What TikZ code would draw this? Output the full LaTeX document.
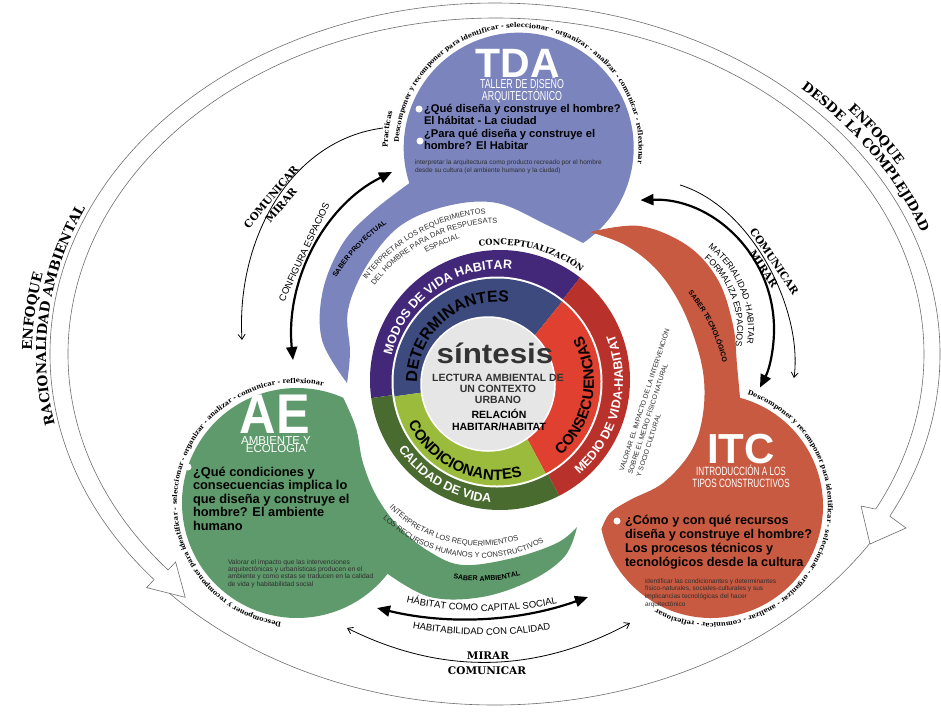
\documentclass[tikz,border=0pt]{standalone}
\usepackage{fontspec}
\usepackage{graphicx}
\setmainfont{Liberation Sans}
\newfontfamily\slab{DejaVu Serif}
\newfontfamily\narrowsf{Liberation Sans}[FakeStretch=0.68]
\usetikzlibrary{decorations.text,arrows.meta}

\definecolor{tdacol}{HTML}{7B84BD}
\definecolor{aecol}{HTML}{5E9A6B}
\definecolor{itccol}{HTML}{C75A41}
\definecolor{ringpurple}{HTML}{43287A}
\definecolor{ringred}{HTML}{B8312B}
\definecolor{ringgreen}{HTML}{4A6B2F}
\definecolor{inblue}{HTML}{3D4A7E}
\definecolor{inred}{HTML}{E0402F}
\definecolor{ingreen}{HTML}{9BBB3C}
\definecolor{core}{HTML}{E6E6E6}
\definecolor{inkgray}{HTML}{2E2E2E}
\definecolor{titlegray}{HTML}{333333}
\definecolor{linegray}{HTML}{6E6E6E}

\newcommand\setfs[1]{\fontsize{#1}{#1}\selectfont}
% text along a circular arc: centre, radius, start angle, end angle, format, text
\newcommand\arclabel[6]{%
  \path[shift={#1}, decorate, decoration={text along path, text align=center, text={|#5|#6}}]
    (#3:#2) arc[start angle=#3, end angle=#4, radius=#2];}
% text along an elliptic arc: centre, x radius, y radius, start, end, format, text
\newcommand\ellabel[7]{%
  \path[shift={#1}, decorate, decoration={text along path, text align=center, text={|#6|#7}}]
    (#4:#2 and #3) arc[start angle=#4, end angle=#5, x radius=#2, y radius=#3];}

\tikzset{
  outline/.style={draw=linegray, line width=0.6pt},
  heavyarrow/.style={line width=2.2pt, {Triangle[length=13pt,width=11pt]}-{Triangle[length=13pt,width=11pt]}},
  lightarrow/.style={line width=0.8pt, -{Straight Barb[length=5pt,width=7pt]}},
  lightboth/.style={line width=0.8pt, {Straight Barb[length=5pt,width=7pt]}-{Straight Barb[length=5pt,width=7pt]}},
  plain/.style={inner sep=0pt, outer sep=0pt},
  question/.style={plain, align=left, text=black},
  note/.style={plain, align=left, text=inkgray},
  bigtitle/.style={plain, text=white, font=\bfseries},
  slablabel/.style={plain, align=center, text=black},
  bullet/.style={fill=white},
}

\begin{document}
\begin{tikzpicture}[x=1pt, y=-1pt]
\useasboundingbox (0,0) rectangle (941,713);
\fill[white] (0,0) rectangle (941,713);

% ---------- outer double-line arrows ----------
\draw[outline] (495,354) ellipse [x radius=445, y radius=351];
\draw[outline] (496,354) ++(140:428 and 336) arc[start angle=140, end angle=387.5, x radius=428, y radius=336];
\fill[white] (168.1,570) -- (175.6,562) -- (185.2,597.3) -- (146.6,587.6) -- (154.1,579.6) -- cycle;
\draw[outline] (168.1,570) -- (175.6,562) -- (185.2,597.3) -- (146.6,587.6) -- (154.1,579.6);
\fill[white] (875.6,509.1) -- (861,506) -- (870,544) -- (906,528) -- (889.7,516.1) -- cycle;
\draw[outline] (875.6,509.1) -- (861,506) -- (870,544) -- (906,528) -- (889.7,516.1);

\ellabel{(495,354)}{463}{369}{150}{222}{\slab\bfseries\setfs{13.5}}{ENFOQUE}
\ellabel{(495,354)}{449}{355}{150}{222}{\slab\bfseries\setfs{13.5}}{RACIONALIDAD AMBIENTAL}
\ellabel{(495,354)}{467}{373}{-75}{9}{\slab\bfseries\setfs{13}}{ENFOQUE}
\ellabel{(495,354)}{453}{359}{-75}{13}{\slab\bfseries\setfs{13}}{DESDE LA COMPLEJIDAD}

% ---------- the three bubbles ----------
\fill[tdacol] (583,243) arc[start angle=56, end angle=-198, radius=115]
  -- plot[smooth, tension=0.6] coordinates {(409.3,183.2) (372,212) (343,243) (323,290) (322,340) (347,383)}
  -- plot[smooth, tension=0.6] coordinates {(347,383) (350,352) (348,310) (367,265) (400,226) (447,206) (497,203) (547,225) (583,243)}
  -- cycle;
\fill[aecol] (387.6,573.8) arc[start angle=38, end angle=293.7, radius=115]
  -- plot[smooth, tension=0.6] coordinates {(343.2,397.7) (356,428) (363,463) (377,497) (400,528) (430,552) (463,565) (513,558) (557,543) (577,527)}
  -- plot[smooth, tension=0.6] coordinates {(577,527) (565,556) (532,580) (482,597) (430,597) (387.6,573.8)}
  -- cycle;
\fill[itccol] (740,397.8) arc[start angle=-75, end angle=168, radius=112]
  -- plot[smooth, tension=0.6] coordinates {(601.4,529.3) (610,513) (630,500) (663,483) (690,453) (702,420) (704,380) (695,340) (678,300) (655,268) (625,245) (590,232)}
  -- plot[smooth, tension=0.6] coordinates {(590,232) (640,226) (688,246) (718,280) (733,325) (737,365) (740,397.8)}
  -- cycle;

% words running round each bubble
\arclabel{(518.7,147.7)}{120}{160}{390}{\slab\bfseries\setfs{6.6}}{Descomponer y recomponer para identificar - seleccionar - organizar - analizar - comunicar - reflexionar}
\arclabel{(518.7,147.7)}{131}{160}{216}{\slab\bfseries\setfs{7}}{Practicas}
\arclabel{(297,503)}{120}{75}{305}{\slab\bfseries\setfs{6.6}}{Descomponer y recomponer para identificar - seleccionar - organizar - analizar - comunicar - reflexionar}
\arclabel{(711,506)}{117}{-92}{138}{\slab\bfseries\setfs{6.6}}{Descomponer y recomponer para identificar - seleccionar - organizar - analizar - comunicar - reflexionar}

% knowledge labels along the tails
\arclabel{(500,380)}{193}{190}{256}{\bfseries\setfs{7}}{SABER PROYECTUAL}
\arclabel{(560,400)}{167}{-70}{17}{\bfseries\setfs{7}}{SABER TECNOLÓGICO}
\arclabel{(480,420)}{161}{115}{60}{\bfseries\setfs{7}}{SABER AMBIENTAL}

% ---------- central rings ----------
\begin{scope}[shift={(500,380)}]
  \fill[ringpurple] (0,0) -- (172:130) arc[start angle=172, end angle=308, radius=130] -- cycle;
  \fill[ringred] (0,0) -- (308:130) arc[start angle=308, end angle=423, radius=130] -- cycle;
  \fill[ringgreen] (0,0) -- (63:130) arc[start angle=63, end angle=172, radius=130] -- cycle;
\end{scope}
\fill[white] (497,382) circle (105.5);
\begin{scope}[shift={(497,382)}]
  \fill[inblue] (0,0) -- (172:103.5) arc[start angle=172, end angle=309, radius=103.5] -- cycle;
  \fill[inred] (0,0) -- (309:103.5) arc[start angle=309, end angle=422, radius=103.5] -- cycle;
  \fill[ingreen] (0,0) -- (62:103.5) arc[start angle=62, end angle=172, radius=103.5] -- cycle;
\end{scope}
\filldraw[fill=core, draw=white, line width=1.5pt] (488,384) circle (67);

\arclabel{(500,380)}{111}{174.5}{294.5}{\bfseries\setfs{12.5}\color{white}}{MODOS DE VIDA HABITAR}
\arclabel{(500,380)}{123}{70}{-42}{\bfseries\setfs{12.5}\color{white}}{MEDIO DE VIDA-HABITAT}
\arclabel{(500,380)}{123}{175}{65}{\bfseries\setfs{12.5}\color{white}}{CALIDAD DE VIDA}
\arclabel{(497,382)}{80}{169}{289}{\bfseries\setfs{16}\color{black}}{DETERMINANTES}
\arclabel{(497,382)}{97}{62}{-42}{\bfseries\setfs{15}\color{black}}{CONSECUENCIAS}
\arclabel{(497,382)}{98}{170}{60}{\bfseries\setfs{15}\color{black}}{CONDICIONANTES}
\arclabel{(500,380)}{135}{254}{314}{\slab\bfseries\setfs{8.3}}{CONCEPTUALIZACIÓN}

\node[plain, anchor=base, text=titlegray, font=\bfseries\setfs{28}] (sintesis) at (495,363) {\scalebox{1.12}[1]{síntesis}};
\node[plain, anchor=base, align=center, text=titlegray, font=\bfseries\fontsize{10.5}{11}\selectfont] (lectura) at (498,403) {LECTURA AMBIENTAL DE\\UN CONTEXTO\\URBANO};
\node[plain, anchor=base, align=center, text=black, font=\bfseries\fontsize{10.5}{12}\selectfont] (relacion) at (499,430) {RELACIÓN\\HABITAR/HABITAT};

% ---------- texts in the white channel ----------
\arclabel{(500,380)}{167}{205}{277}{\setfs{7.5}\color{inkgray}}{INTERPRETAR LOS REQUERIMIENTOS}
\arclabel{(500,380)}{157}{207}{279}{\setfs{7.5}\color{inkgray}}{DEL HOMBRE PARA DAR RESPUESATS}
\arclabel{(500,380)}{147}{215}{279}{\setfs{7.5}\color{inkgray}}{ESPACIAL}
\arclabel{(480,420)}{126}{150}{58}{\setfs{7.5}\color{inkgray}}{INTERPRETAR LOS REQUERIMIENTOS}
\arclabel{(480,420)}{138}{150}{47}{\setfs{7.5}\color{inkgray}}{LOS RECURSOS HUMANOS Y CONSTRUCTIVOS}
\node[note, anchor=north west, rotate=72, font=\fontsize{6.8}{9}\selectfont] (valorar) at (618,470) {VALORAR EL IMPACTO DE LA INTERVENCIÓN\\SOBRE EL MEDIO FÍSICO NATURAL\\Y SOCIO CULTURAL};

% ---------- TDA contents ----------
\node[bigtitle, anchor=base, font=\bfseries\setfs{41}] (tda) at (518,77) {TDA};
\node[plain, anchor=base, align=center, text=white, font=\narrowsf\fontsize{13}{12}\selectfont] (tdasub) at (522,100) {TALLER DE DISEÑO\\ARQUITECTÓNICO};
\fill[bullet] (419,109) circle (3.5);
\fill[bullet] (420,141) circle (3.5);
\node[question, anchor=base west, font=\bfseries\fontsize{11.2}{12.5}\selectfont] (tdaq) at (424,149.5) {¿Qué diseña y construye el hombre?\\El hábitat - La ciudad\\¿Para qué diseña y construye el\\hombre? El Habitar};
\node[note, anchor=base west, font=\fontsize{6.5}{8}\selectfont] (tdanote) at (415,172) {interpretar la arquitectura como producto recreado por el hombre\\desde su cultura (el ambiente humano y la ciudad)};

% ---------- AE contents ----------
\node[bigtitle, anchor=base, font=\bfseries\setfs{56}] (ae) at (275,433) {\scalebox{0.9}[1]{AE}};
\node[plain, anchor=base, text=white, font=\setfs{11.5}] (aesub1) at (276,444) {AMBIENTE Y};
\node[plain, anchor=base, text=white, font=\setfs{11.5}] (aesub2) at (276,452.5) {ECOLOGÍA};
\fill[bullet] (188,467) circle (3.5);
\node[question, anchor=base west, font=\bfseries\fontsize{12.8}{13.5}\selectfont] (aeq) at (193,530) {¿Qué condiciones y\\consecuencias implica lo\\que diseña y construye el\\hombre? El ambiente\\humano};
\node[note, anchor=base west, font=\fontsize{6.7}{7.4}\selectfont] (aenote) at (228,586.2) {Valorar el impacto que las intervenciones\\arquitectónicas y urbanísticas producen en el\\ambiente y como estas se traducen en la calidad\\de vida y habitabilidad social};

% ---------- ITC contents ----------
\node[bigtitle, anchor=base, font=\bfseries\setfs{42}] (itc) at (741,463) {ITC};
\node[plain, anchor=base, align=center, text=white, font=\narrowsf\fontsize{12}{12}\selectfont] (itcsub) at (741,487) {INTRODUCCIÓN A LOS\\TIPOS CONSTRUCTIVOS};
\fill[bullet] (617,521) circle (3.5);
\node[question, anchor=base west, font=\bfseries\fontsize{12.7}{14}\selectfont] (itcq) at (625,566) {¿Cómo y con qué recursos\\diseña y construye el hombre?\\Los procesos técnicos y\\tecnológicos desde la cultura};
\node[note, anchor=base west, font=\fontsize{6.5}{7.7}\selectfont] (itcnote) at (645,606.1) {identificar las condicionantes y determinantes\\físico-naturales, sociales-culturales y sus\\implicancias tecnológicas del hacer\\arquitectónico};

% ---------- arrows between the workshops ----------
\coordinate (cfgA) at (293,360);
\coordinate (cfgB) at (392,172);
\draw[heavyarrow] (cfgA) .. controls (285,280) and (325,205) .. (cfgB);
\node[plain, rotate=65, font=\setfs{9.5}] (cfgtext) at (304,252) {CONFIGURA ESPACIOS};

\coordinate (lookA) at (383,128);
\coordinate (lookB) at (242,340);
\draw[lightarrow] (lookA) .. controls (290,140) and (236,240) .. (lookB);
\node[slablabel, rotate=50, font=\slab\bfseries\fontsize{10.5}{13}\selectfont] (look1) at (276,201) {COMUNICAR\\MIRAR};

\coordinate (matA) at (640.5,200.1);
\draw[heavyarrow] (matA) arc[start angle=-92, end angle=27, radius=129] coordinate (matB);
\arclabel{(645,329)}{103}{-80}{36}{\setfs{8.8}}{MATERIALIDAD -HABITAR}
\arclabel{(645,329)}{92}{-78}{39}{\setfs{8.8}}{FORMALIZA ESPACIOS}

\coordinate (lookC) at (680,185);
\coordinate (lookD) at (794,378);
\draw[lightarrow] (lookC) .. controls (752,207) and (803,310) .. (lookD);
\node[slablabel, rotate=-56, font=\slab\bfseries\fontsize{10.5}{13}\selectfont] (look2) at (769,265) {COMUNICAR\\MIRAR};

\coordinate (habA) at (377,608);
\coordinate (habB) at (588,597);
\draw[heavyarrow] (habA) .. controls (447,625) and (518,622) .. (habB);
\arclabel{(485,240)}{371}{110}{71}{\setfs{9.5}}{HÁBITAT COMO CAPITAL SOCIAL}
\arclabel{(485,240)}{395}{110}{71}{\setfs{9.5}}{HABITABILIDAD CON CALIDAD}

\coordinate (lookE) at (347,628);
\coordinate (lookF) at (630,623);
\draw[lightboth] (lookE) .. controls (441,675) and (536,674) .. (lookF);
\node[slablabel, font=\slab\bfseries\setfs{10.5}] (look3a) at (488,656) {MIRAR};
\node[slablabel, font=\slab\bfseries\setfs{10.5}] (look3b) at (487,671) {COMUNICAR};

\end{tikzpicture}
\end{document}
